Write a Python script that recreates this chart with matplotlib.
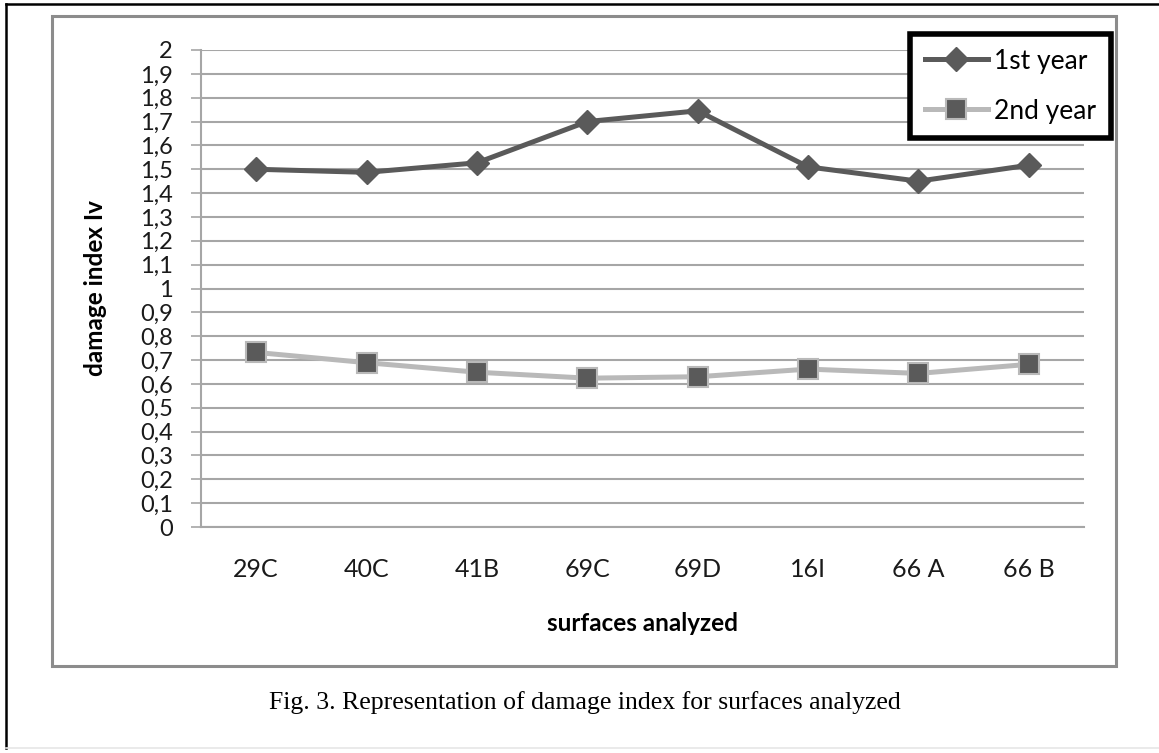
import matplotlib
matplotlib.use("Agg")
import matplotlib.pyplot as plt
from matplotlib.lines import Line2D
from matplotlib.patches import Rectangle

plt.rcParams['font.family'] = ['Lato', 'DejaVu Sans']

# data
surfaces = ['29C', '40C', '41B', '69C', '69D', '16I', '66 A', '66 B']
year1 = [1.50, 1.487, 1.527, 1.70, 1.745, 1.51, 1.45, 1.517]
year2 = [0.732, 0.689, 0.649, 0.624, 0.63, 0.662, 0.644, 0.682]
yticks = [i / 10 for i in range(21)]
ytick_labels = [('%g' % v).replace('.', ',') for v in yticks]

dark = '#5a5a5a'
light = '#b9b9b9'
grid = '#a6a6a6'

fig = plt.figure(figsize=(11.59, 7.53), dpi=100)
ax = fig.add_axes([201 / 1159, 1 - 527 / 753, 883 / 1159, 477 / 753])

x = list(range(len(surfaces)))
ax.plot(x, year1, color=dark, lw=3.6, marker='D', ms=12, mfc=dark, mec=dark,
        label='1st year', zorder=3)
ax.plot(x, year2, color=light, lw=3.6, marker='s', ms=14, mfc=dark, mec=light,
        mew=1.5, label='2nd year', zorder=3)

ax.set_xlim(-0.5, len(surfaces) - 0.5)
ax.set_ylim(0, 2)
ax.set_yticks(yticks)
ax.set_yticklabels(ytick_labels)
ax.set_xticks(x)
ax.set_xticklabels(surfaces)
ax.tick_params(axis='y', length=7.2, width=1.2, color=grid, pad=13, labelsize=17,
               labelcolor='#1a1a1a')
ax.tick_params(axis='x', length=0, pad=22, labelsize=18, labelcolor='#1a1a1a')
ax.yaxis.grid(True, color=grid, lw=1.5)
ax.set_axisbelow(True)
for s in ['top', 'right']:
    ax.spines[s].set_visible(False)
for s in ['left', 'bottom']:
    ax.spines[s].set_color(grid)
    ax.spines[s].set_linewidth(1.5)

ax.set_ylabel('damage index Iv', fontsize=17.5, fontweight='bold')
ax.yaxis.set_label_coords(-0.1065, 0.5)
ax.set_xlabel('surfaces analyzed', fontsize=17.5, fontweight='bold')
ax.xaxis.set_label_coords(0.5, -0.178)

leg = ax.legend(loc='upper right', bbox_to_anchor=(1111 / 1159, 1 - 34 / 753),
                bbox_transform=fig.transFigure, fontsize=19, frameon=True,
                fancybox=False, framealpha=1, edgecolor='black', borderaxespad=0,
                handlelength=2.4, borderpad=0.55, labelspacing=0.95,
                handletextpad=0.25)
leg.get_frame().set_linewidth(4)

# chart frame and page border
fig.patches.append(Rectangle((52 / 1159, 1 - 666 / 753), 1064 / 1159, 650 / 753,
                             transform=fig.transFigure, fill=False,
                             edgecolor='#8c8c8c', lw=2.2, zorder=0))
fig.add_artist(Line2D([6 / 1159, 6 / 1159], [1 - 4 / 753, 1 - 748 / 753],
                      color='black', lw=1.8))
fig.add_artist(Line2D([6 / 1159, 1], [1 - 4 / 753, 1 - 4 / 753],
                      color='black', lw=1.8))
fig.add_artist(Line2D([6 / 1159, 1], [1 - 748 / 753, 1 - 748 / 753],
                      color='#e6e6e6', lw=1.2))

fig.text(0.505, 1 - 703 / 753, 'Fig. 3. Representation of damage index for surfaces analyzed',
         family='Liberation Serif', fontsize=18.5, ha='center', va='center')

fig.savefig('out.png', dpi=100)
